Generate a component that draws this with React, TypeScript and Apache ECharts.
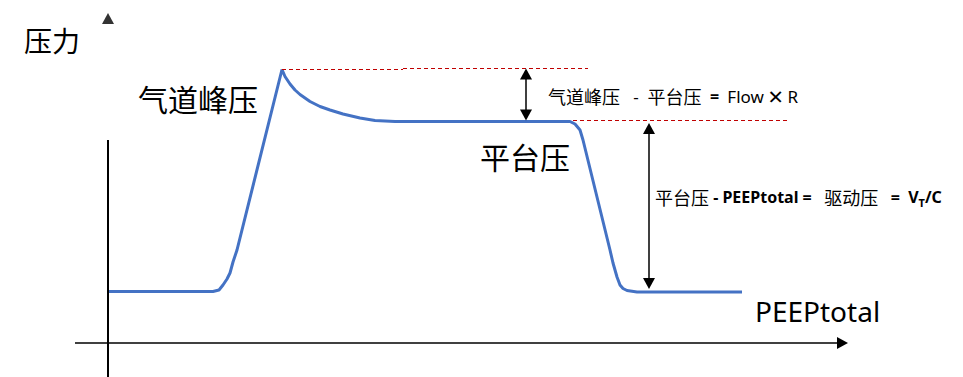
import React, { useEffect, useRef } from "react";
import * as echarts from "echarts";

// Pressure–time curve (time units, pressure units)
const time = [0, 10.5, 11.1, 11.5, 11.9, 12.2, 12.5, 12.9, 17.4, 17.7, 18.2, 18.7, 19.2, 20.2, 21.2, 22.2, 23.5, 25.2, 26.7, 28.7, 46.2, 46.7, 47.2, 47.5, 50.2, 50.5, 50.9, 51.2, 51.5, 51.9, 52.9, 63.4];
const pressure = [5.15, 5.15, 5.3, 5.8, 6.4, 7.0, 8.1, 9.3, 27.35, 26.65, 25.9, 25.3, 24.85, 24.15, 23.65, 23.3, 22.9, 22.5, 22.25, 22.15, 22.15, 21.9, 21.3, 20.3, 9.3, 8.0, 6.6, 5.8, 5.45, 5.25, 5.1, 5.1];

// Dashed reference levels: [x1, x2, y]
const dashedLevels = [
  [17.4, 29.5, 27.35],
  [29.5, 48.0, 27.45],
  [46.5, 67.9, 22.23],
];

// Double arrows: [x, yTop, yBottom] (arrow tips)
const doubleArrows = [
  [41.8, 27.45, 22.25],
  [54.1, 22.0, 5.4],
];

// Axes (data coords)
const xAxisLine = [-3.3, 74.0]; // from, arrow tip
const yAxisLine = [-3.4, 20.3];
const yArrowTip = [0, 32.45];

const labels = [
  { text: "压力", x: 24, y: 41, size: 28 },
  { text: "气道峰压", x: 138, y: 99, size: 30 },
  { text: "平台压", x: 480, y: 157, size: 30 },
  { text: "{c|气道峰压}{a|   -  }{c|平台压}{b|  =  }{a|Flow }{x|×}{a| R}", x: 548, y: 96, size: 17 },
  { text: "{c|平台压}{b| - PEEPtotal =   }{c|驱动压}{b|   =  V}{sub|T}{b|/C}", x: 655, y: 197, size: 16 },
  { text: "PEEPtotal", x: 755, y: 311, size: 28 },
];

const HALF = 0.55; // half arrowhead length in data units

export default function App() {
  const ref = useRef<HTMLDivElement>(null);
  useEffect(() => {
    if (!ref.current) return;
    const chart = echarts.init(ref.current, null, { renderer: "svg" });
    const font = '"Noto Sans", "Noto Sans CJK SC", sans-serif';
    const cjk = '"Noto Sans CJK SC", sans-serif';
    const curve = time.map((t, i) => [t, pressure[i]]);

    const markData: any[] = [];
    dashedLevels.forEach(([x1, x2, y]) => {
      markData.push([
        { coord: [x1, y], symbol: "none", lineStyle: { color: "#c00000", type: [4, 3], width: 1 } },
        { coord: [x2, y], symbol: "none" },
      ]);
    });
    doubleArrows.forEach(([x, yt, yb]) => {
      markData.push([
        { coord: [x, yt - HALF], symbol: "triangle", lineStyle: { color: "#000", type: "solid", width: 1.5 } },
        { coord: [x, yb + HALF], symbol: "triangle" },
      ]);
    });
    markData.push([
      { coord: [xAxisLine[0], 0], symbol: "none", lineStyle: { color: "#000", type: "solid", width: 1.5 } },
      { coord: [xAxisLine[1] - HALF, 0], symbol: "triangle" },
    ]);
    markData.push([
      { coord: [0, yAxisLine[0]], symbol: "none", lineStyle: { color: "#000", type: "solid", width: 2 } },
      { coord: [0, yAxisLine[1]], symbol: "none" },
    ]);

    const rich = {
      c: { fontSize: 18, fontFamily: cjk, fill: "#000" },
      a: { fontSize: 17, fontFamily: font, fill: "#000" },
      b: { fontSize: 16, fontFamily: font, fontWeight: "bold", fill: "#000" },
      x: { fontSize: 26, fontFamily: font, fill: "#000" },
      sub: { fontSize: 11, fontFamily: font, fontWeight: "bold", fill: "#000", padding: [10, 0, 0, 0] },
    };

    chart.setOption({
      animation: false,
      grid: { left: 0, right: 0, top: 0, bottom: 0 },
      xAxis: { type: "value", min: -10.8, max: 85.5, show: false },
      yAxis: { type: "value", min: -3.4, max: 34.3, show: false },
      series: [
        {
          type: "line",
          data: curve,
          symbol: "none",
          smooth: false,
          clip: false,
          lineStyle: { color: "#4472c4", width: 3 },
          markLine: {
            silent: true,
            symbolSize: [12, 11],
            label: { show: false },
            emphasis: { disabled: true },
            itemStyle: { color: "#000" },
            data: markData,
          },
        },
        {
          type: "scatter",
          data: [yArrowTip],
          symbol: "triangle",
          symbolSize: [12, 11],
          itemStyle: { color: "#000" },
          silent: true,
        },
      ],
      graphic: labels.map((l) => ({
        type: "text",
        x: l.x,
        y: l.y,
        silent: true,
        style: {
          text: l.text,
          fill: "#000",
          fontSize: l.size,
          fontFamily: font,
          verticalAlign: "middle",
          align: "left",
          rich,
        },
      })),
    });
    return () => chart.dispose();
  }, []);
  return (
    <div
      ref={ref}
      style={{ position: "absolute", left: 0, top: 0, width: 963, height: 377, background: "#fff" }}
    />
  );
}
